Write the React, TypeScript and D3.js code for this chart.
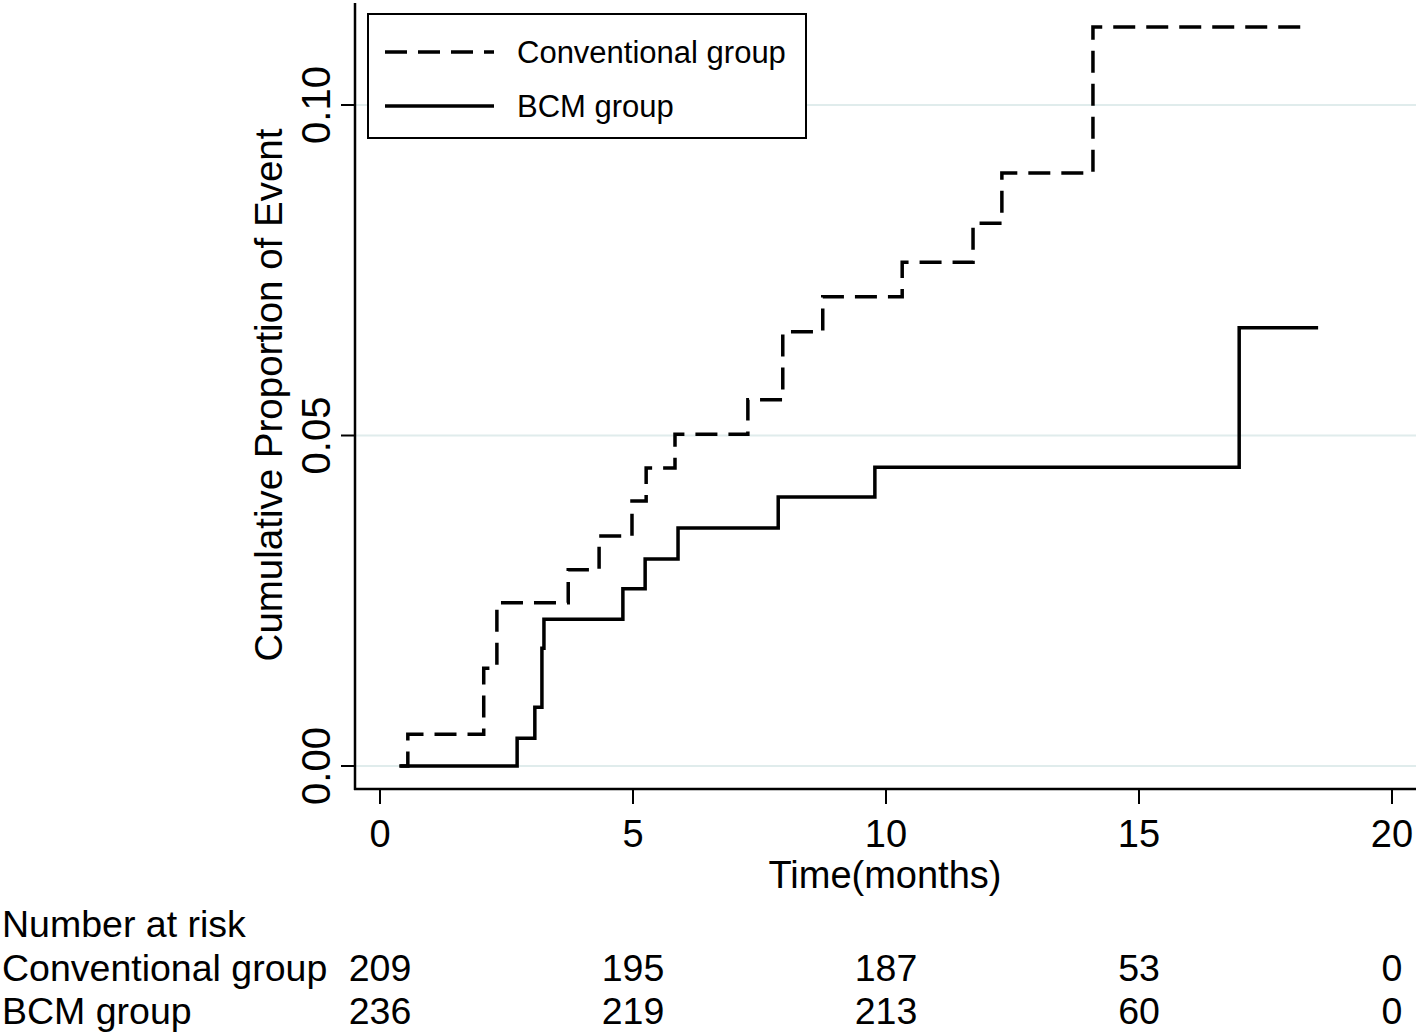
import React, { useEffect, useRef } from "react";
import * as d3 from "d3";

// Kaplan-Meier style cumulative event curves
const convTime = [0.4, 0.55, 2.05, 2.31, 3.72, 4.33, 4.98, 5.26, 5.83, 7.27, 7.96, 8.75, 10.32, 11.72, 12.29, 14.09, 18.38];
const convCum = [0, 0.0048, 0.0148, 0.0247, 0.0297, 0.0348, 0.0401, 0.0451, 0.0502, 0.0554, 0.0657, 0.071, 0.0762, 0.0821, 0.0897, 0.1118, 0.1118];

const bcmTime = [0.38, 2.71, 3.06, 3.2, 3.24, 4.8, 5.24, 5.89, 7.87, 9.78, 16.98, 18.54];
const bcmCum = [0, 0.0042, 0.0089, 0.0178, 0.0222, 0.0268, 0.0313, 0.036, 0.0407, 0.0452, 0.0663, 0.0663];

const xTicks = [0, 5, 10, 15, 20];
const yTicks = [0, 0.05, 0.1];

const riskGroups = ["Conventional group", "BCM group"];
const convRisk = [209, 195, 187, 53, 0];
const bcmRisk = [236, 219, 213, 60, 0];

const FONT = "'Liberation Sans', Arial, Helvetica, sans-serif";

export default function App() {
  const ref = useRef<SVGSVGElement>(null);

  useEffect(() => {
    document.body.style.margin = "0";
    const svg = d3.select(ref.current);
    svg.selectAll("*").remove();

    const W = 1418, H = 1033;
    const axisLeft = 355, axisBottom = 789, plotTop = 3, plotRight = 1416;

    const x = d3.scaleLinear().domain([0, 20]).range([380, 1392]);
    const y = d3.scaleLinear().domain([0, 0.1]).range([766, 105]);

    svg.append("rect").attr("width", W).attr("height", H).attr("fill", "white");

    // gridlines
    svg.append("g").selectAll("line").data(yTicks).join("line")
      .attr("x1", axisLeft).attr("x2", plotRight)
      .attr("y1", d => y(d)).attr("y2", d => y(d))
      .attr("stroke", "#e0ecec").attr("stroke-width", 2);

    // y axis
    const yAxis = svg.append("g");
    yAxis.append("line")
      .attr("x1", axisLeft).attr("x2", axisLeft)
      .attr("y1", plotTop).attr("y2", axisBottom + 1)
      .attr("stroke", "black").attr("stroke-width", 2.5);
    yAxis.selectAll(".tk").data(yTicks).join("line").attr("class", "tk")
      .attr("x1", axisLeft - 14).attr("x2", axisLeft)
      .attr("y1", d => y(d)).attr("y2", d => y(d))
      .attr("stroke", "black").attr("stroke-width", 2);
    yAxis.selectAll("text").data(yTicks).join("text")
      .attr("transform", d => `translate(316,${y(d)}) rotate(-90)`)
      .attr("text-anchor", "middle").attr("dominant-baseline", "central")
      .attr("font-family", FONT).attr("font-size", 40)
      .text(d => d3.format(".2f")(d));
    svg.append("text")
      .attr("transform", `translate(268,395) rotate(-90)`)
      .attr("text-anchor", "middle").attr("dominant-baseline", "central")
      .attr("font-family", FONT).attr("font-size", 38.5)
      .text("Cumulative Proportion of Event");

    // x axis
    const xAxis = svg.append("g");
    xAxis.append("line")
      .attr("x1", axisLeft - 1).attr("x2", plotRight)
      .attr("y1", axisBottom).attr("y2", axisBottom)
      .attr("stroke", "black").attr("stroke-width", 2.5);
    xAxis.selectAll(".tk").data(xTicks).join("line").attr("class", "tk")
      .attr("x1", d => x(d)).attr("x2", d => x(d))
      .attr("y1", axisBottom).attr("y2", axisBottom + 15)
      .attr("stroke", "black").attr("stroke-width", 2);
    xAxis.selectAll("text").data(xTicks).join("text")
      .attr("x", d => x(d)).attr("y", 834)
      .attr("text-anchor", "middle").attr("dominant-baseline", "central")
      .attr("font-family", FONT).attr("font-size", 38)
      .text(d => String(d));
    svg.append("text")
      .attr("x", 885).attr("y", 875)
      .attr("text-anchor", "middle").attr("dominant-baseline", "central")
      .attr("font-family", FONT).attr("font-size", 38)
      .text("Time(months)");

    // curves
    const line = d3.line<[number, number]>()
      .x(d => x(d[0])).y(d => y(d[1]))
      .curve(d3.curveStepAfter);
    const conv = convTime.map((t, i) => [t, convCum[i]] as [number, number]);
    const bcm = bcmTime.map((t, i) => [t, bcmCum[i]] as [number, number]);

    svg.append("path").attr("d", line(bcm))
      .attr("fill", "none").attr("stroke", "black").attr("stroke-width", 3.5);
    svg.append("path").attr("d", line(conv))
      .attr("fill", "none").attr("stroke", "black").attr("stroke-width", 3.5)
      .attr("stroke-dasharray", "22 11");

    // legend
    const lg = svg.append("g");
    lg.append("rect")
      .attr("x", 368).attr("y", 14).attr("width", 438).attr("height", 124)
      .attr("fill", "white").attr("stroke", "black").attr("stroke-width", 2);
    const items = [
      { label: "Conventional group", dash: "22 11", y: 52 },
      { label: "BCM group", dash: null, y: 106 },
    ];
    items.forEach(it => {
      lg.append("line")
        .attr("x1", 385).attr("x2", 494).attr("y1", it.y).attr("y2", it.y)
        .attr("stroke", "black").attr("stroke-width", 3.5)
        .attr("stroke-dasharray", it.dash);
      lg.append("text")
        .attr("x", 517).attr("y", it.y)
        .attr("dominant-baseline", "central")
        .attr("font-family", FONT).attr("font-size", 31)
        .text(it.label);
    });

    // number at risk table
    const tbl = svg.append("g").attr("font-family", FONT).attr("font-size", 37.5);
    tbl.append("text").attr("x", 2).attr("y", 924)
      .attr("dominant-baseline", "central").text("Number at risk");
    const rows = [convRisk, bcmRisk];
    rows.forEach((vals, r) => {
      const ry = 968 + r * 43;
      tbl.append("text").attr("x", 2).attr("y", ry)
        .attr("dominant-baseline", "central").text(riskGroups[r]);
      tbl.selectAll(`.r${r}`).data(vals).join("text").attr("class", `r${r}`)
        .attr("x", (d, i) => x(xTicks[i])).attr("y", ry)
        .attr("text-anchor", "middle").attr("dominant-baseline", "central")
        .text(d => String(d));
    });
  }, []);

  return <svg ref={ref} width={1418} height={1033} style={{ display: "block" }} />;
}
